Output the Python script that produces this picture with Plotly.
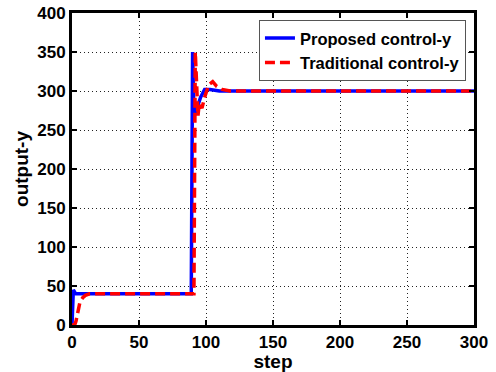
import plotly.graph_objects as go

# Proposed control (blue solid)
proposed_steps = [0, 1, 2, 3, 89, 90, 91, 92, 94, 96, 99, 103, 110, 300]
proposed_y = [0, 45, 42, 40, 40, 350, 268, 272, 282, 292, 302, 302, 300, 300]

# Traditional control (red dashed)
traditional_steps = [0, 2, 3, 4, 5, 6, 8, 10, 13, 91, 92, 93, 94, 95, 97, 99, 102, 105, 108, 112, 118, 300]
traditional_y = [0, 0, 5, 14, 24, 30, 35, 38, 40, 40, 350, 300, 268, 285, 278, 292, 308, 312, 306, 302, 300, 300]

x_ticks = [0, 50, 100, 150, 200, 250, 300]
y_ticks = [0, 50, 100, 150, 200, 250, 300, 350, 400]

FONT = "Liberation Sans, Arial, sans-serif"

fig = go.Figure()
fig.add_trace(go.Scatter(
    x=proposed_steps, y=proposed_y, mode="lines", name="Proposed control-y",
    line=dict(color="#0000ff", width=3.5),
))
fig.add_trace(go.Scatter(
    x=traditional_steps, y=traditional_y, mode="lines", name="Traditional control-y",
    line=dict(color="#ff0000", width=3.5, dash="10px,5px"),
))

axis_common = dict(
    showline=True, linecolor="black", linewidth=3, mirror="allticks",
    ticks="inside", ticklen=5, tickwidth=2, tickcolor="black",
    showgrid=True, gridcolor="#222222", gridwidth=1, griddash="1px,3px",
    zeroline=False, automargin=False,
    tickfont=dict(family=FONT, size=17, color="black", weight="bold"),
)

fig.update_xaxes(
    range=[0, 300], tickvals=x_ticks,
    title=dict(text="step", font=dict(family=FONT, size=19, color="black", weight="bold"), standoff=0),
    **axis_common,
)
fig.update_yaxes(
    range=[0, 400], tickvals=y_ticks,
    title=dict(text="output-y", font=dict(family=FONT, size=19, color="black", weight="bold"), standoff=4),
    **axis_common,
)

fig.update_layout(
    width=496, height=372,
    margin=dict(l=72, r=22, t=13, b=47),
    paper_bgcolor="white", plot_bgcolor="white",
    showlegend=True,
    legend=dict(
        x=0.98, y=0.978, xanchor="right", yanchor="top",
        bgcolor="white", bordercolor="#555555", borderwidth=1,
        font=dict(family=FONT, size=16.5, color="black", weight="bold"),
        tracegroupgap=0, itemwidth=30,
    ),
)

fig.write_html(
    "out.html",
    config={"displayModeBar": False},
    post_script="document.body.style.margin='0';document.body.style.overflow='hidden';",
)
